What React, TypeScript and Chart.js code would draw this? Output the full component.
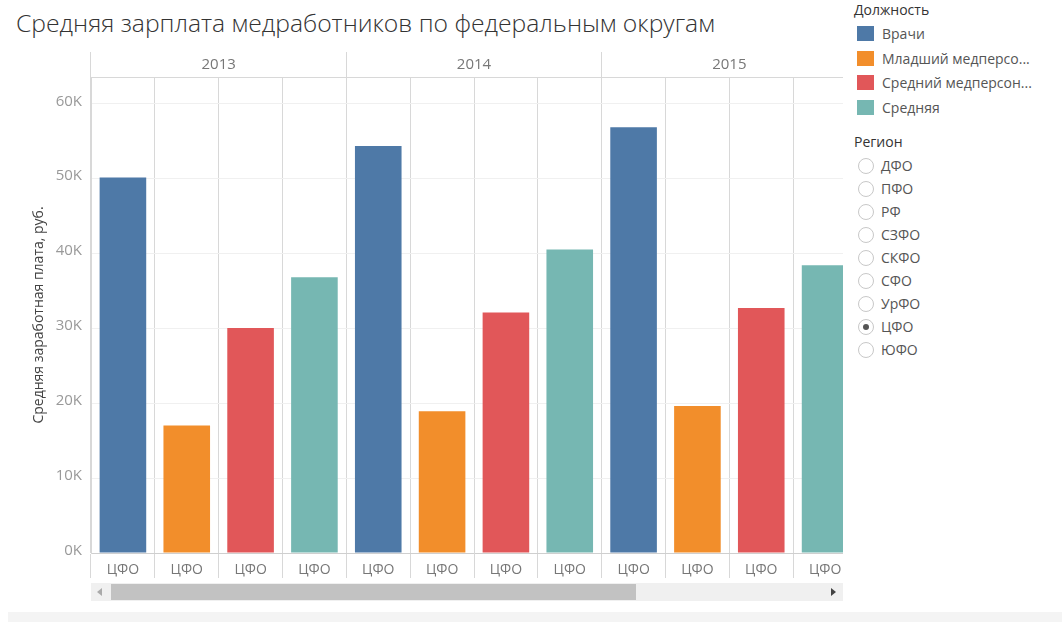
import React, { useEffect, useRef } from 'react';
import { Chart, registerables } from 'chart.js';

Chart.register(...registerables);

const title = 'Средняя зарплата медработников по федеральным округам';
const yAxisTitle = 'Средняя заработная плата, руб.';
const years = ['2013', '2014', '2015'];
const region = 'ЦФО';
const positions = ['Врачи', 'Младший медперсо...', 'Средний медперсон...', 'Средняя'];
const positionColors = ['#4e79a7', '#f28e2b', '#e15759', '#76b7b2'];
const doctors = [50100, 54300, 56800];
const juniorStaff = [17000, 18900, 19600];
const nurses = [30000, 32100, 32700];
const average = [36800, 40500, 38400];
const regions = ['ДФО', 'ПФО', 'РФ', 'СЗФО', 'СКФО', 'СФО', 'УрФО', 'ЦФО', 'ЮФО'];
const selectedRegion = 'ЦФО';
const yTicks = [0, 10000, 20000, 30000, 40000, 50000, 60000];
const yMax = 63500;

const FONT = '"Open Sans", "DejaVu Sans", sans-serif';

function ChartCanvas() {
  const ref = useRef<HTMLCanvasElement | null>(null);
  useEffect(() => {
    if (!ref.current) return;
    const series = [doctors, juniorStaff, nurses, average];
    const labels: string[] = [];
    const values: number[] = [];
    const colors: string[] = [];
    years.forEach((_, yi) => {
      series.forEach((s, si) => {
        labels.push(region);
        values.push(s[yi]);
        colors.push(positionColors[si]);
      });
    });
    const chart = new Chart(ref.current, {
      type: 'bar',
      data: {
        labels,
        datasets: [
          {
            data: values,
            backgroundColor: colors,
            borderWidth: 0,
            barPercentage: 0.73,
            categoryPercentage: 1,
            xAxisID: 'x',
            yAxisID: 'y',
          },
        ],
      },
      options: {
        responsive: false,
        animation: false,
        devicePixelRatio: 1,
        layout: { padding: { left: 0, right: 0, top: 52, bottom: 22 } },
        plugins: { legend: { display: false }, tooltip: { enabled: false }, title: { display: false } },
        scales: {
          x: {
            type: 'category',
            position: 'bottom',
            offset: true,
            grid: {
              offset: true,
              color: '#d8d8d8',
              drawOnChartArea: true,
              drawTicks: true,
              tickLength: 25,
            },
            border: { display: true, color: '#cfcfcf' },
            ticks: {
              color: '#777',
              font: { family: FONT, size: 14 },
              padding: -16,
              maxRotation: 0,
              autoSkip: false,
            },
            afterFit: (s: any) => {
              s.height = 25;
            },
          },
          x2: {
            type: 'category',
            position: 'top',
            labels: years,
            offset: true,
            grid: {
              offset: true,
              color: '#d8d8d8',
              drawOnChartArea: false,
              drawTicks: true,
              tickLength: 25,
            },
            border: { display: true, color: '#d8d8d8' },
            ticks: {
              color: '#777',
              font: { family: FONT, size: 15 },
              padding: -22,
              maxRotation: 0,
            },
            afterFit: (s: any) => {
              s.height = 25;
            },
          },
          y: {
            min: 0,
            max: yMax,
            grid: { color: '#f0f0f0', drawTicks: false },
            border: { display: true, color: '#d8d8d8' },
            afterBuildTicks: (s: any) => {
              s.ticks = yTicks.map((v) => ({ value: v }));
            },
            ticks: {
              color: '#999',
              padding: 9,
              labelOffset: -2,
              font: { family: FONT, size: 15 },
              callback: (v: any) => `${Number(v) / 1000}K`,
            },
            title: {
              display: true,
              text: yAxisTitle,
              color: '#444',
              font: { family: FONT, size: 14 },
              padding: { top: 31, bottom: 0 },
            },
            afterFit: (s: any) => {
              s.width = 91;
            },
          },
        },
      },
    });
    return () => chart.destroy();
  }, []);
  return <canvas ref={ref} width={857} height={600} style={{ width: 857, height: 600, display: 'block' }} />;
}

export default function App() {
  return (
    <div
      style={{
        position: 'fixed',
        left: 0,
        top: 0,
        width: 1062,
        height: 622,
        background: '#fff',
        fontFamily: FONT,
        overflow: 'hidden',
      }}
    >
      <div
        style={{
          position: 'absolute',
          left: 16,
          top: 5,
          fontSize: 24.7,
          fontWeight: 300,
          color: '#333',
          whiteSpace: 'nowrap',
          lineHeight: '36px',
        }}
      >
        {title}
      </div>
      <div style={{ position: 'absolute', left: 0, top: 0, width: 843, height: 600, overflow: 'hidden' }}>
        <ChartCanvas />
      </div>
      {/* scrollbar */}
      <div style={{ position: 'absolute', left: 91, top: 583, width: 752, height: 18, background: '#f0f0f0' }} />
      <div style={{ position: 'absolute', left: 111, top: 584, width: 525, height: 16, background: '#c2c2c2' }} />
      <div
        style={{
          position: 'absolute',
          left: 97,
          top: 588,
          width: 0,
          height: 0,
          borderTop: '4px solid transparent',
          borderBottom: '4px solid transparent',
          borderRight: '5px solid #aaa',
        }}
      />
      <div
        style={{
          position: 'absolute',
          left: 831,
          top: 588,
          width: 0,
          height: 0,
          borderTop: '4px solid transparent',
          borderBottom: '4px solid transparent',
          borderLeft: '5px solid #444',
        }}
      />
      <div style={{ position: 'absolute', left: 8, top: 612, width: 1054, height: 10, background: '#f4f4f4' }} />
      {/* legend */}
      <div style={{ position: 'absolute', left: 854, top: 0, width: 208, color: '#555' }}>
        <div style={{ position: 'absolute', left: 0, top: 0, fontSize: 14, color: '#333', lineHeight: '20px', whiteSpace: 'nowrap' }}>
          Должность
        </div>
        {positions.map((p, i) => (
          <div key={p} style={{ position: 'absolute', left: 0, top: 25 + i * 24.7, height: 17, whiteSpace: 'nowrap' }}>
            <div style={{ position: 'absolute', left: 3, top: 1, width: 17, height: 15, background: positionColors[i] }} />
            <div style={{ position: 'absolute', left: 28, top: -1, fontSize: 14, lineHeight: '19px', color: '#555' }}>{p}</div>
          </div>
        ))}
        <div style={{ position: 'absolute', left: 0, top: 132, fontSize: 14, color: '#333', lineHeight: '20px', whiteSpace: 'nowrap' }}>
          Регион
        </div>
        {regions.map((r, i) => (
          <div key={r} style={{ position: 'absolute', left: 0, top: 158 + i * 23, height: 17, whiteSpace: 'nowrap' }}>
            <div
              style={{
                position: 'absolute',
                left: 4,
                top: 0,
                width: 14,
                height: 14,
                borderRadius: '50%',
                border: '1px solid #c8c8c8',
                boxSizing: 'content-box',
              }}
            >
              {r === selectedRegion && (
                <div
                  style={{
                    position: 'absolute',
                    left: 4,
                    top: 4,
                    width: 6,
                    height: 6,
                    borderRadius: '50%',
                    background: '#555',
                  }}
                />
              )}
            </div>
            <div style={{ position: 'absolute', left: 27, top: -2, fontSize: 14, lineHeight: '19px', color: '#555' }}>{r}</div>
          </div>
        ))}
      </div>
    </div>
  );
}
